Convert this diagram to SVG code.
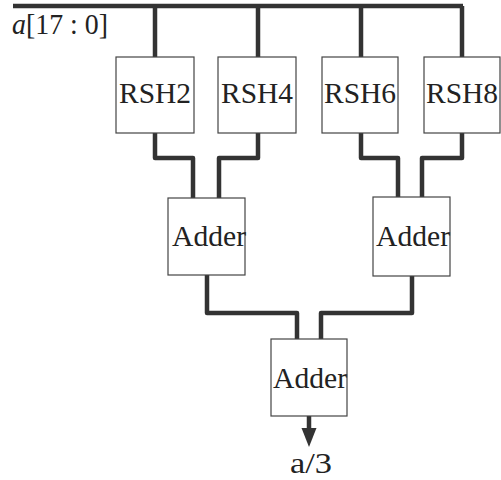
<svg xmlns="http://www.w3.org/2000/svg" width="501" height="480" viewBox="0 0 501 480">
  <defs>
    <style>
      .box { fill: #ffffff; stroke: #444444; stroke-width: 1.2; }
      .wire { fill: none; stroke: #333333; stroke-width: 4.5; stroke-linejoin: round; stroke-linecap: butt; }
      .lbl { font-family: "Liberation Serif", "DejaVu Serif", serif; font-size: 29px; fill: #222222; text-anchor: middle; }
      .lbl-start { text-anchor: start; }
      .head { fill: #333333; }
    </style>
  </defs>
  <rect width="501" height="480" fill="#ffffff"/>

  <!-- wiring -->
  <g id="connectors">
    <path class="wire" d="M13,6 H463"/>
    <path class="wire" d="M155,6 V57"/>
    <path class="wire" d="M258,6 V57"/>
    <path class="wire" d="M361,6 V57"/>
    <path class="wire" d="M462,6 V57"/>
    <path class="wire" d="M155,133 V158 H193 V198"/>
    <path class="wire" d="M258,133 V158 H219 V198"/>
    <path class="wire" d="M361,133 V158 H398 V197"/>
    <path class="wire" d="M462,133 V158 H422 V197"/>
    <path class="wire" d="M207,275 V313 H297 V339"/>
    <path class="wire" d="M412,276 V313 H321 V339"/>
    <path class="wire" d="M309,416 V431"/>
    <path class="head" d="M301.5,428 L316.5,428 L309,447 Z"/>
  </g>

  <text class="lbl lbl-start" x="12" y="34" textLength="96" lengthAdjust="spacingAndGlyphs"><tspan font-style="italic">a</tspan>[17 : 0]</text>

  <g id="rsh2">
    <rect class="box" x="116" y="57" width="78" height="76"/>
    <text class="lbl" x="155" y="103" textLength="72" lengthAdjust="spacingAndGlyphs">RSH2</text>
  </g>
  <g id="rsh4">
    <rect class="box" x="218" y="57" width="78" height="76"/>
    <text class="lbl" x="257" y="103" textLength="72" lengthAdjust="spacingAndGlyphs">RSH4</text>
  </g>
  <g id="rsh6">
    <rect class="box" x="322" y="57" width="76" height="76"/>
    <text class="lbl" x="360" y="103" textLength="72" lengthAdjust="spacingAndGlyphs">RSH6</text>
  </g>
  <g id="rsh8">
    <rect class="box" x="424" y="57" width="76" height="76"/>
    <text class="lbl" x="462" y="103" textLength="72" lengthAdjust="spacingAndGlyphs">RSH8</text>
  </g>

  <g id="adder-left">
    <rect class="box" x="168" y="198" width="77" height="77"/>
    <text class="lbl" x="209" y="246" textLength="74" lengthAdjust="spacingAndGlyphs">Adder</text>
  </g>
  <g id="adder-right">
    <rect class="box" x="373" y="197" width="77" height="79"/>
    <text class="lbl" x="413" y="246" textLength="74" lengthAdjust="spacingAndGlyphs">Adder</text>
  </g>
  <g id="adder-out">
    <rect class="box" x="271" y="339" width="76" height="77"/>
    <text class="lbl" x="310" y="388" textLength="74" lengthAdjust="spacingAndGlyphs">Adder</text>
  </g>

  <text class="lbl" x="311" y="473" textLength="42" lengthAdjust="spacingAndGlyphs">a/3</text>
</svg>
